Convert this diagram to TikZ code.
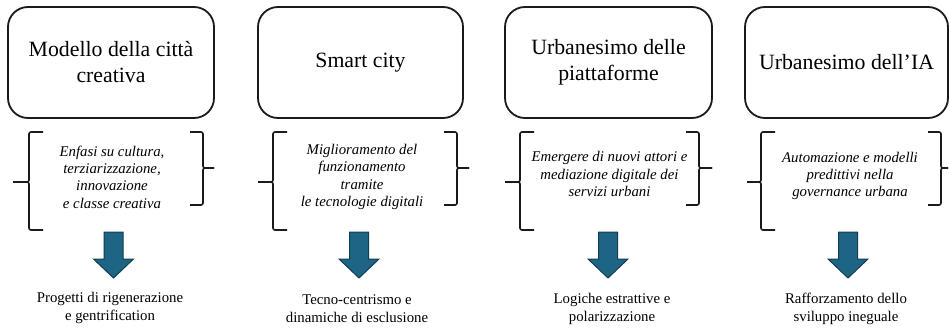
\documentclass[tikz,border=0pt]{standalone}
\usepackage{fontspec}
\setmainfont{Liberation Serif}
\definecolor{boxline}{HTML}{1A1A1A}
\definecolor{arrowfill}{HTML}{1E6484}
\definecolor{arrowline}{HTML}{123E52}
\tikzset{
  titlebox/.style={draw=boxline, line width=1.8pt, rounded corners=20pt,
    minimum height=111pt, align=center, inner sep=0pt,
    font=\fontsize{21.8}{26}\selectfont},
  desc/.style={align=center, inner sep=0pt,
    font=\fontsize{14.8}{17.3}\selectfont\itshape},
  result/.style={align=center, inner sep=0pt,
    font=\fontsize{14.8}{18}\selectfont},
  brk/.style={draw=boxline, line width=1.6pt, rounded corners=2pt},
  blockarrow/.style={fill=arrowfill, draw=arrowline, line width=1pt, line join=miter}
}
\begin{document}
\begin{tikzpicture}[x=1pt,y=-1pt]
\useasboundingbox (0,0) rectangle (949,329);

% title boxes
\node[titlebox, minimum width=206pt] (b1) at (111,62.5) {Modello della città\\creativa};
\node[titlebox, minimum width=205pt] (b2) at (360.5,62.5) {Smart city};
\node[titlebox, minimum width=207pt] (b3) at (608.5,62.5) {Urbanesimo delle\\piattaforme};
\node[titlebox, minimum width=203pt] (b4) at (846.5,62.5) {Urbanesimo dell’IA};

% descriptions
\node[desc] (d1) at (112,177) {Enfasi su cultura,\\terziarizzazione,\\innovazione\\e classe creativa};
\node[desc] (d2) at (362,177) {Miglioramento del\\funzionamento\\tramite\\le tecnologie digitali};
\node[desc] (d3) at (609.5,174) {Emergere di nuovi attori e\\mediazione digitale dei\\servizi urbani};
\node[desc] (d4) at (850,176) {Automazione e modelli\\predittivi nella\\governance urbana};

% results
\node[result] (r1) at (110,308) {Progetti di rigenerazione\\e gentrification};
\node[result] (r2) at (357,309) {Tecno-centrismo e\\dinamiche di esclusione};
\node[result] (r3) at (612,309) {Logiche estrattive e\\polarizzazione};
\node[result] (r4) at (846,309) {Rafforzamento dello\\sviluppo ineguale};

% brackets: left (v, tip), right (v, tip)
\foreach \lv/\lt/\rv/\rt in {29/13/203/214, 273/258/457/469, 520/505/699/712, 761/747/941/948}{
  \draw[brk] (\lv+14,132) -- (\lv,132) -- (\lv,182) -- (\lt,182);
  \draw[brk] (\lt,182) -- (\lv,182) -- (\lv,230) -- (\lv+14,230);
  \draw[brk] (\rv-13,132) -- (\rv,132) -- (\rv,168) -- (\rt,168);
  \draw[brk] (\rt,168) -- (\rv,168) -- (\rv,205) -- (\rv-13,205);
}

% block arrows
\foreach \c in {113.5, 359, 608, 848}{
  \draw[blockarrow] (\c-9.5,232) -- (\c+9.5,232) -- (\c+9.5,259) -- (\c+20,259)
    -- (\c,278) -- (\c-20,259) -- (\c-9.5,259) -- cycle;
}
\end{tikzpicture}
\end{document}
